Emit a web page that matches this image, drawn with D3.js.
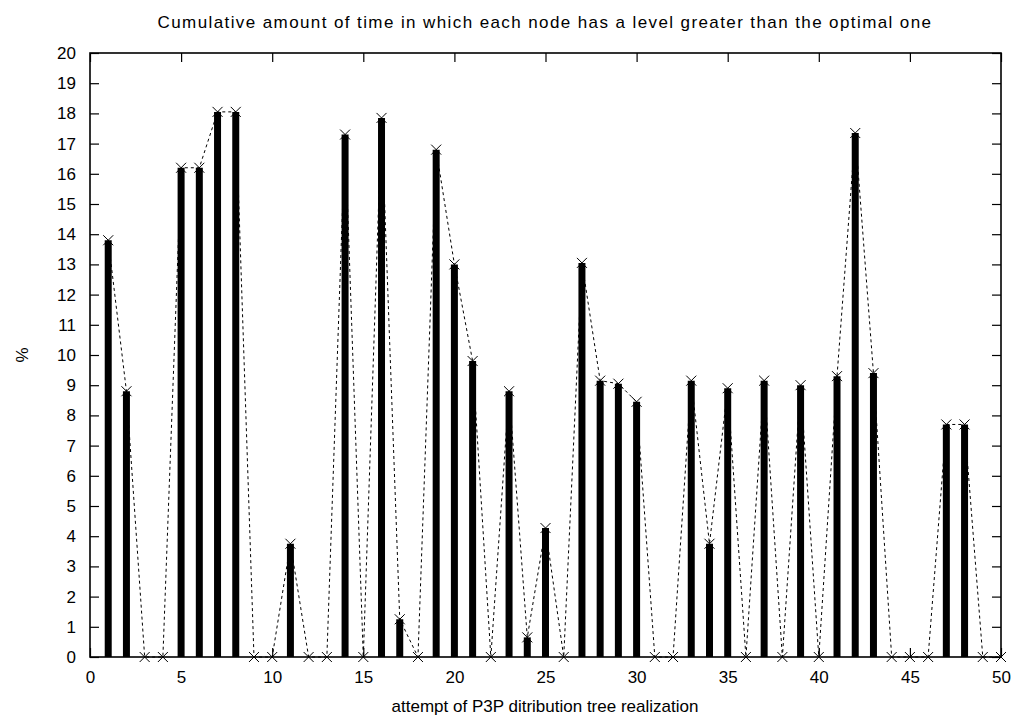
<!DOCTYPE html>
<html>
<head>
<meta charset="utf-8">
<script src="https://cdn.jsdelivr.net/npm/d3@7"></script>
<style>
  body { margin: 0; background: #fff; }
  svg text { font-family: "Liberation Sans", Arial, sans-serif; fill: #000; }
</style>
</head>
<body>
<svg id="chart" width="1018" height="718"></svg>
<script>
// attempt number (x) and % of time above optimal level (y)
var attempts = d3.range(1, 51);
var percent = [
  13.8, 8.8, 0, 0, 16.2, 16.2, 18.05, 18.05, 0, 0,
  3.75, 0, 0, 17.3, 0, 17.85, 1.25, 0, 16.8, 13.0,
  9.8, 0, 8.8, 0.65, 4.27, 0, 13.05, 9.15, 9.05, 8.45,
  0, 0, 9.15, 3.75, 8.9, 0, 9.15, 0, 9.0, 0,
  9.3, 17.35, 9.4, 0, 0, 0, 7.7, 7.7, 0, 0
];
var xTicks = d3.range(0, 51, 5);
var yTicks = d3.range(0, 21, 1);

var titleText = "Cumulative amount of time in which each node has a level greater than the optimal one";
var xLabelText = "attempt of P3P ditribution tree realization";
var yLabelText = "%";

var data = attempts.map(function(a, i){ return {x: a, y: percent[i]}; });

var mLeft = 90, mRight = 1001, mTop = 53, mBottom = 657;
var svg = d3.select("#chart");

var x = d3.scaleLinear().domain([0, 50]).range([mLeft, mRight]);
var y = d3.scaleLinear().domain([0, 20]).range([mBottom, mTop]);

var fs = 17;
var tickLen = 9;

// bars (impulses)
svg.append("g").selectAll("line")
  .data(data.filter(function(d){ return d.y > 0; }))
  .enter().append("line")
  .attr("x1", function(d){ return x(d.x); })
  .attr("x2", function(d){ return x(d.x); })
  .attr("y1", y(0))
  .attr("y2", function(d){ return y(d.y); })
  .attr("stroke", "#000")
  .attr("stroke-width", 7);

// dashed connecting line
var line = d3.line().x(function(d){ return x(d.x); }).y(function(d){ return y(d.y); });
svg.append("path")
  .datum(data)
  .attr("d", line)
  .attr("fill", "none")
  .attr("stroke", "#000")
  .attr("stroke-width", 1)
  .attr("stroke-dasharray", "3,3");

// cross markers
var cs = 5;
svg.append("g").selectAll("path")
  .data(data)
  .enter().append("path")
  .attr("d", function(d){
    var cx = x(d.x), cy = y(d.y);
    return "M" + (cx - cs) + "," + (cy - cs) + "L" + (cx + cs) + "," + (cy + cs) +
           "M" + (cx - cs) + "," + (cy + cs) + "L" + (cx + cs) + "," + (cy - cs);
  })
  .attr("stroke", "#000")
  .attr("stroke-width", 1)
  .attr("fill", "none");

// axes, gnuplot style: inward ticks mirrored on both sides
var axB = d3.axisBottom(x).tickValues(xTicks).tickSizeInner(-tickLen).tickSizeOuter(0).tickPadding(14);
var axT = d3.axisTop(x).tickValues(xTicks).tickSizeInner(-tickLen).tickSizeOuter(0).tickFormat("");
var axL = d3.axisLeft(y).tickValues(yTicks).tickSizeInner(-tickLen).tickSizeOuter(0).tickPadding(14);
var axR = d3.axisRight(y).tickValues(yTicks).tickSizeInner(-tickLen).tickSizeOuter(0).tickFormat("");

function style(g){
  g.select(".domain").remove();
  g.selectAll(".tick line").attr("stroke", "#000").attr("stroke-width", 1.2);
  g.selectAll(".tick text").style("font-size", fs + "px").attr("font-family", null);
}
svg.append("g").attr("transform", "translate(0," + mBottom + ")").call(axB).call(style);
svg.append("g").attr("transform", "translate(0," + mTop + ")").call(axT).call(style);
svg.append("g").attr("transform", "translate(" + mLeft + ",0)").call(axL).call(style);
svg.append("g").attr("transform", "translate(" + mRight + ",0)").call(axR).call(style);

// frame
svg.append("rect")
  .attr("x", mLeft).attr("y", mTop)
  .attr("width", mRight - mLeft).attr("height", mBottom - mTop)
  .attr("fill", "none").attr("stroke", "#000").attr("stroke-width", 1.6);

// labels
svg.append("text")
  .attr("x", 545).attr("y", 28)
  .attr("text-anchor", "middle")
  .style("font-size", "17px")
  .style("letter-spacing", "1.4px")
  .text(titleText);

svg.append("text")
  .attr("x", 545).attr("y", 712)
  .attr("text-anchor", "middle")
  .style("font-size", "17px")
  .text(xLabelText);

svg.append("text")
  .attr("transform", "translate(28," + ((mTop + mBottom) / 2) + ") rotate(-90)")
  .attr("text-anchor", "middle")
  .style("font-size", "17px")
  .text(yLabelText);
</script>
</body>
</html>
